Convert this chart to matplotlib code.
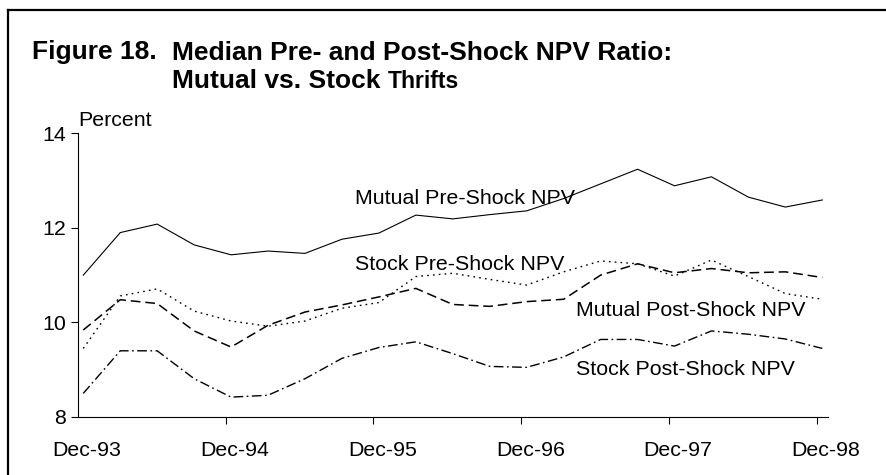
import matplotlib
matplotlib.use("Agg")
import matplotlib.pyplot as plt
from matplotlib.lines import Line2D
from matplotlib.ticker import FixedLocator, NullFormatter

plt.rcParams['font.family'] = ['Liberation Sans', 'DejaVu Sans']
plt.rcParams['lines.scale_dashes'] = False

quarters = ["Dec-93", "Mar-94", "Jun-94", "Sep-94", "Dec-94", "Mar-95", "Jun-95",
            "Sep-95", "Dec-95", "Mar-96", "Jun-96", "Sep-96", "Dec-96", "Mar-97",
            "Jun-97", "Sep-97", "Dec-97", "Mar-98", "Jun-98", "Sep-98", "Dec-98"]
tick_labels = ["Dec-93", "Dec-94", "Dec-95", "Dec-96", "Dec-97", "Dec-98"]

mutual_pre = [11.00, 11.90, 12.08, 11.64, 11.43, 11.51, 11.46, 11.76, 11.89, 12.27,
              12.19, 12.28, 12.36, 12.62, 12.93, 13.24, 12.89, 13.08, 12.65, 12.44, 12.59]
stock_pre = [9.45, 10.56, 10.71, 10.24, 10.03, 9.92, 10.03, 10.30, 10.42, 10.97,
             11.04, 10.91, 10.79, 11.07, 11.30, 11.24, 10.98, 11.32, 10.97, 10.61, 10.49]
mutual_post = [9.84, 10.48, 10.40, 9.82, 9.48, 9.94, 10.22, 10.37, 10.54, 10.72,
               10.38, 10.34, 10.44, 10.49, 11.00, 11.24, 11.05, 11.14, 11.05, 11.07, 10.95]
stock_post = [8.50, 9.40, 9.40, 8.81, 8.42, 8.46, 8.81, 9.24, 9.47, 9.59,
              9.34, 9.07, 9.05, 9.27, 9.64, 9.64, 9.50, 9.82, 9.75, 9.65, 9.45]

W, H = 887, 475
fig = plt.figure(figsize=(W / 100, H / 100), dpi=100)
ax = fig.add_axes([78.3 / W, 1 - 417.0 / H, (827.7 - 78.3) / W, (417.0 - 133.3) / H])

x = list(range(len(quarters)))
ax.plot(x, mutual_pre, color='black', lw=0.8, ls='-')
ax.plot(x, stock_pre, color='black', lw=1.0, ls=(0, (1.2, 3.0)))
ax.plot(x, mutual_post, color='black', lw=1.1, ls=(0, (7.0, 3.5)))
ax.plot(x, stock_post, color='black', lw=1.0, ls=(0, (7.0, 2.5, 1.2, 2.5)))

ax.set_xlim(-0.135, 20.146)
ax.set_ylim(8, 14)
ax.set_yticks([8, 10, 12, 14])
ax.set_yticklabels(['8', '10', '12', '14'])

major_pos = [4 * k - 0.15 for k in range(len(tick_labels))]
label_pos = [4 * k + 0.1 for k in range(len(tick_labels))]
ax.xaxis.set_major_locator(FixedLocator(major_pos))
ax.xaxis.set_major_formatter(NullFormatter())
ax.xaxis.set_minor_locator(FixedLocator(label_pos))
ax.set_xticklabels(tick_labels, minor=True)
ax.tick_params(axis='x', which='major', direction='out', length=5, width=0.8)
ax.tick_params(axis='x', which='minor', length=0, pad=17, labelsize=15.4)
ax.tick_params(axis='y', direction='out', length=5, width=0.8, pad=4, labelsize=15.4)

for s in ['top', 'right']:
    ax.spines[s].set_visible(False)
for s in ['left', 'bottom']:
    ax.spines[s].set_linewidth(0.8)

lab_kw = dict(fontsize=15.4, ha='left', va='baseline')
ax.text(7.35, 12.50, "Mutual Pre-Shock NPV", **lab_kw)
ax.text(7.35, 11.10, "Stock Pre-Shock NPV", **lab_kw)
ax.text(13.33, 10.14, "Mutual Post-Shock NPV", **lab_kw)
ax.text(13.33, 8.89, "Stock Post-Shock NPV", **lab_kw)

# "Percent" label above axis
fig.text(78 / W, 1 - 125.7 / H, "Percent", fontsize=15.4, ha='left', va='baseline')

# Title
title_kw = dict(fontsize=19, fontweight='bold', ha='left', va='baseline')
fig.text(32 / W, 1 - 59.5 / H, "Figure 18.", **title_kw)
fig.text(172 / W, 1 - 59.5 / H, "Median Pre- and Post-Shock NPV Ratio:", **title_kw)
t1 = fig.text(172 / W, 1 - 88.5 / H, "Mutual vs. Stock ", **title_kw)
fig.canvas.draw()
bb = t1.get_window_extent()
fig.text(bb.x1 / W, 1 - 88.5 / H, "Thrifts", fontsize=16.5, fontweight='bold',
         ha='left', va='baseline')

# Frame (top and left border)
fig.add_artist(Line2D([8.5 / W, 8.5 / W], [0, 1 - 10 / H], color='black', lw=1.6,
                      transform=fig.transFigure))
fig.add_artist(Line2D([8.5 / W, 1], [1 - 10 / H, 1 - 10 / H], color='black', lw=1.6,
                      transform=fig.transFigure))

fig.savefig("out.png", dpi=100)
